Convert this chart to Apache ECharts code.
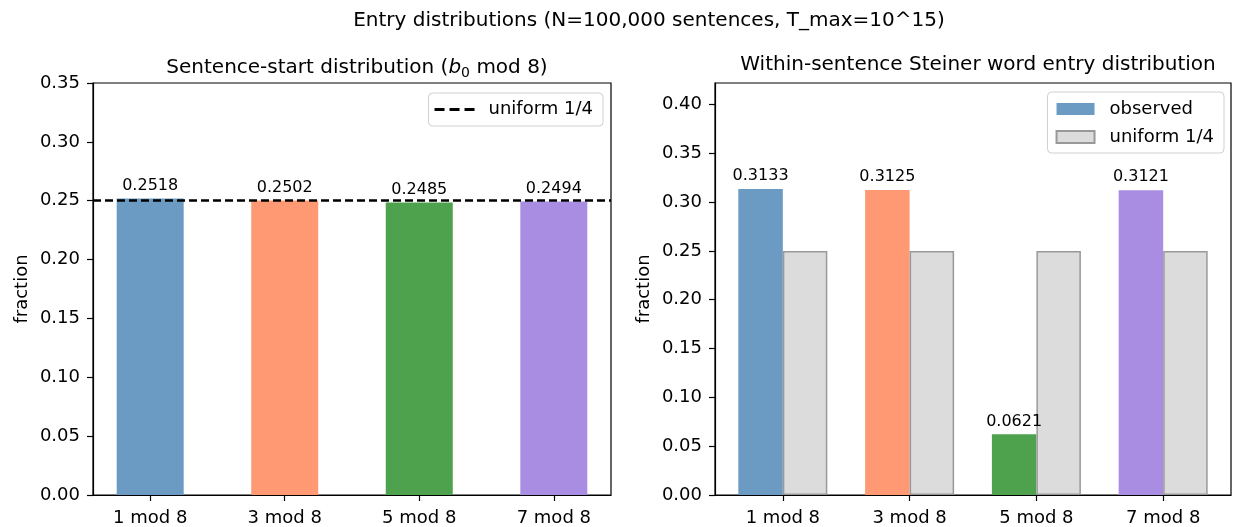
<!DOCTYPE html>
<html>
<head>
<meta charset="utf-8">
<script src="https://cdn.jsdelivr.net/npm/echarts@6/dist/echarts.min.js"></script>
<style>html,body{margin:0;padding:0;background:#fff}#c{width:1235px;height:527px}</style>
</head>
<body>
<div id="c"></div>
<script>
const categories = ['1 mod 8', '3 mod 8', '5 mod 8', '7 mod 8'];
const startFractions = [0.2518, 0.2502, 0.2485, 0.2494];
const steinerFractions = [0.3133, 0.3125, 0.0621, 0.3121];
const uniformValue = 0.25;
const uniformFractions = [0.25, 0.25, 0.25, 0.25];
const leftYTicks = [0, 0.05, 0.10, 0.15, 0.20, 0.25, 0.30, 0.35];
const rightYTicks = [0, 0.05, 0.10, 0.15, 0.20, 0.25, 0.30, 0.35, 0.40];
const barColors = ['#6b9bc3', '#ff9973', '#4ea24e', '#a98de2'];

const FONT = 'DejaVu Sans';
const idx = categories.map((c, i) => i);

function xAxis(gridIndex, min, max) {
  return {
    type: 'value', gridIndex, min, max,
    splitLine: {show: false},
    axisLine: {show: true, onZero: false, lineStyle: {color: '#000', width: 1.2}},
    axisTick: {show: true, length: 6, customValues: idx, lineStyle: {color: '#000', width: 1.2}},
    axisLabel: {customValues: idx, formatter: v => categories[Math.round(v)] || '', fontFamily: FONT, fontSize: 18, color: '#000', margin: 14}
  };
}
function yAxis(gridIndex, max, ticks) {
  return {
    type: 'value', gridIndex, min: 0, max,
    name: 'fraction', nameLocation: 'middle', nameGap: 62, nameRotate: 90,
    nameTextStyle: {fontFamily: FONT, fontSize: 18, color: '#000'},
    splitLine: {show: false},
    axisLine: {show: true, onZero: false, lineStyle: {color: '#000', width: 1.2}},
    axisTick: {show: true, length: 6, customValues: ticks, lineStyle: {color: '#000', width: 1.2}},
    axisLabel: {customValues: ticks, formatter: v => v.toFixed(2), fontFamily: FONT, fontSize: 18, color: '#000', margin: 13}
  };
}

const dashIcon = 'path://M0,0h10v3h-10z M15,0h10v3h-10z M30,0h10v3h-10z';

const chart = echarts.init(document.getElementById('c'), null, {renderer: 'canvas'});
chart.setOption({
  animation: false,
  backgroundColor: '#fff',
  title: [
    {text: 'Entry distributions (N=100,000 sentences, T_max=10^15)', left: 644, textAlign: 'center', top: 6,
     textStyle: {fontFamily: FONT, fontSize: 20, fontWeight: 'normal', color: '#000'}},
    {text: '{n|Sentence-start distribution (}{i|b}{s|0}{n| mod 8)}', left: 352, textAlign: 'center', top: 50,
     textStyle: {fontFamily: FONT, fontSize: 20, fontWeight: 'normal', color: '#000',
       rich: {
         n: {fontFamily: FONT, fontSize: 20, color: '#000', lineHeight: 26},
         i: {fontFamily: FONT, fontSize: 20, fontStyle: 'italic', color: '#000', lineHeight: 26},
         s: {fontFamily: FONT, fontSize: 14, color: '#000', lineHeight: 26, padding: [10, 0, 0, 0]}
       }}},
    {text: 'Within-sentence Steiner word entry distribution', left: 973, textAlign: 'center', top: 50,
     textStyle: {fontFamily: FONT, fontSize: 20, fontWeight: 'normal', color: '#000'}}
  ],
  grid: [
    {left: 93, right: 624, top: 83, bottom: 32, show: true, borderColor: '#000', borderWidth: 1.2, backgroundColor: 'transparent'},
    {left: 715, right: 4, top: 83, bottom: 32, show: true, borderColor: '#000', borderWidth: 1.2, backgroundColor: 'transparent'}
  ],
  xAxis: [xAxis(0, -0.425, 3.425), xAxis(1, -0.535, 3.535)],
  yAxis: [yAxis(0, 0.35, leftYTicks), yAxis(1, 0.422, rightYTicks)],
  legend: [
    {data: [{name: 'uniform 1/4', icon: dashIcon}], right: 632, top: 93, orient: 'vertical',
     itemWidth: 40, itemHeight: 3, itemGap: 8, padding: [7, 10, 7, 6],
     itemStyle: {color: '#000', borderWidth: 0},
     borderColor: '#d0d0d0', borderWidth: 1, borderRadius: 4, backgroundColor: '#fff',
     textStyle: {fontFamily: FONT, fontSize: 18, color: '#000', padding: [0, 0, 0, 9], lineHeight: 19}},
    {data: [{name: 'observed', icon: 'rect'}, {name: 'uniform 1/4 ', icon: 'rect'}], right: 11, top: 92, orient: 'vertical',
     itemWidth: 38, itemHeight: 12, itemGap: 10, padding: [8, 10, 7, 8],
     borderColor: '#d0d0d0', borderWidth: 1, borderRadius: 4, backgroundColor: '#fff',
     textStyle: {fontFamily: FONT, fontSize: 18, color: '#000', padding: [0, 0, 0, 10]},
     formatter: n => n.trim()}
  ],
  series: [
    {
      type: 'bar', name: 'start', xAxisIndex: 0, yAxisIndex: 0, barWidth: 67,
      data: startFractions.map((v, i) => ({value: [i, v], itemStyle: {color: barColors[i]}})),
      label: {show: true, position: 'top', distance: 5, formatter: p => p.value[1].toFixed(4),
        fontFamily: FONT, fontSize: 16, color: '#000'}
    },
    {
      type: 'line', name: 'uniform 1/4', xAxisIndex: 0, yAxisIndex: 0, data: [],
      symbol: 'none', color: '#000',
      lineStyle: {color: '#000', width: 2.5, type: [8, 4]},
      markLine: {silent: true, symbol: 'none', label: {show: false},
        lineStyle: {color: '#000', width: 2.5, type: [8, 4]},
        data: [{yAxis: uniformValue}]}
    },
    {
      type: 'bar', name: 'observed', xAxisIndex: 1, yAxisIndex: 1, barWidth: 44.5, barGap: '0%',
      itemStyle: {color: barColors[0]},
      data: steinerFractions.map((v, i) => ({value: [i, v], itemStyle: {color: barColors[i]}})),
      label: {show: true, position: 'top', distance: 5, formatter: p => p.value[1].toFixed(4),
        fontFamily: FONT, fontSize: 16, color: '#000'}
    },
    {
      type: 'bar', name: 'uniform 1/4 ', xAxisIndex: 1, yAxisIndex: 1, barWidth: 44.5, barGap: '0%',
      itemStyle: {color: '#dcdcdc', borderColor: '#999', borderWidth: 1.5},
      data: uniformFractions.map((v, i) => [i, v])
    }
  ]
});
</script>
</body>
</html>
